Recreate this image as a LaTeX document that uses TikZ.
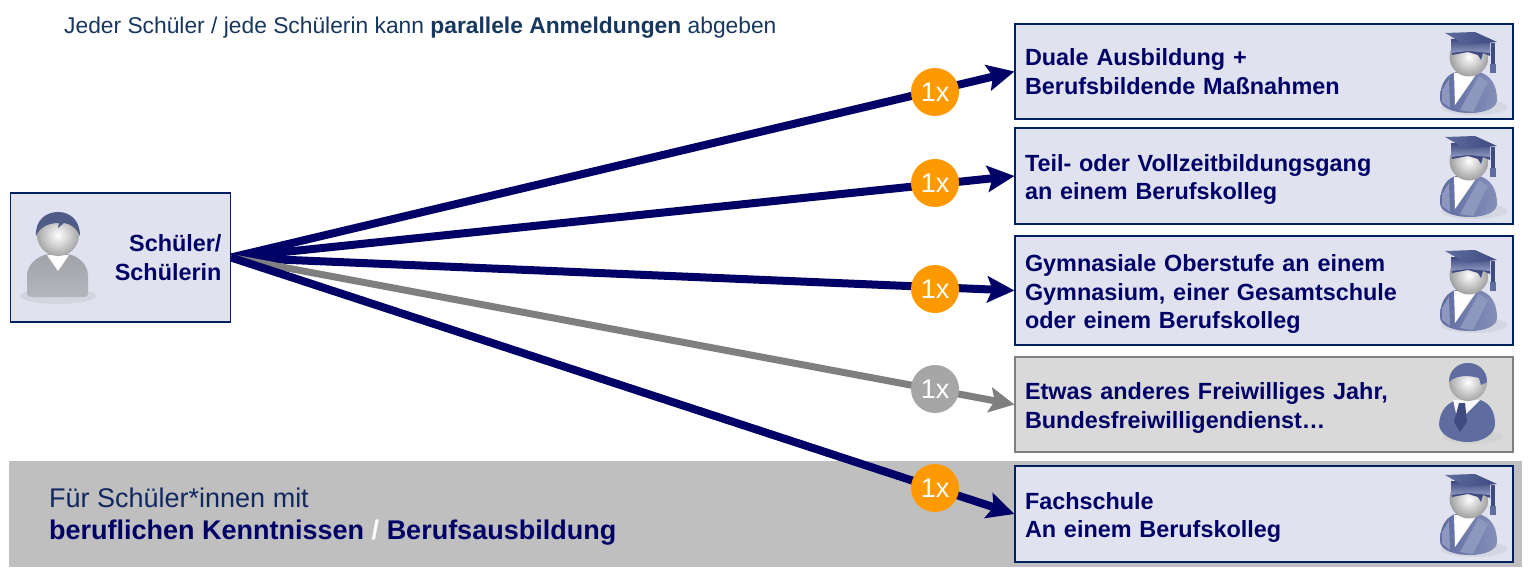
\documentclass[tikz,border=0pt]{standalone}
\usepackage{fontspec}
\setmainfont{Liberation Sans}
\usetikzlibrary{arrows.meta}
\definecolor{navy}{HTML}{000066}
\definecolor{boxblue}{HTML}{E0E3EF}
\definecolor{edgeblue}{HTML}{002060}
\definecolor{boxgray}{HTML}{D9D9D9}
\definecolor{edgegray}{HTML}{7F7F7F}
\definecolor{band}{HTML}{BFBFBF}
\definecolor{toptext}{HTML}{17375E}
\definecolor{badgeorange}{HTML}{FF9900}
\definecolor{badgegray}{HTML}{A6A6A6}
\definecolor{iconblue}{HTML}{5E6C9F}
\definecolor{iconlight}{HTML}{8E98BF}
\definecolor{icondark}{HTML}{3E4A80}
\newcommand{\lowtext}{\rule{0pt}{24pt}}
\tikzset{
  x=1pt,y=-1pt,
  card/.style={rectangle,draw=edgeblue,fill=boxblue,line width=1.1pt,anchor=center,
    align=left,inner xsep=0pt,inner ysep=0pt,text=navy,
    font=\fontsize{23.4}{28.7}\selectfont\bfseries},
  graycard/.style={card,draw=edgegray,fill=boxgray},
  link/.style={draw=navy,line width=8pt,-{Stealth[length=27pt,width=26pt,inset=5pt]}},
  graylink/.style={draw=edgegray,line width=7pt,-{Stealth[length=25pt,width=25pt,inset=5pt]}},
  badge/.style={circle,minimum size=48pt,inner sep=0pt,fill=badgeorange,text=white,
    font=\fontsize{27}{27}\selectfont},
  graybadge/.style={badge,fill=badgegray},
  graduate/.pic={
    \fill[boxblue!88!gray] (4,35) ellipse [x radius=33,y radius=8];
    \shade[left color=iconblue,right color=iconlight!80!iconblue] (-30,27) .. controls (-30,10) and (-22,2) .. (-14,0) -- (9,0)
      .. controls (20,3) and (27,12) .. (27,28) .. controls (27,36) and (15,41) .. (0,41)
      .. controls (-18,41) and (-30,35) .. (-30,27) -- cycle;
    \fill[iconlight] (9,4) -- (18,10) -- (3,40) -- (-10,38) -- cycle;
    \fill[iconlight] (-28,18) -- (-21,7) -- (-20,36) -- (-28,30) -- cycle;
    \fill[white] (-16,1) -- (7,1) -- (-15,33) -- cycle;
    \shade[inner color=white,outer color=gray!75] (-1,-15) circle [radius=19.5];
    \fill[icondark] (-19,-24) -- (20,-24) -- (20,-16) -- (13,-19) -- (11,-12) -- (8,-17)
      -- (-2,-20) -- (-18,-17) -- cycle;
    \shade[top color=icondark,bottom color=iconlight] (-19,-33) -- (20,-33) -- (20,-19) -- (-2,-21) -- (-19,-19) -- cycle;
    \shade[left color=iconblue,right color=icondark] (-25,-39) -- (5,-40) -- (27,-30) -- (-4,-27) -- cycle;
    \fill[icondark] (21,-29) -- (25,-29) -- (25,-8) -- (21,-8) -- cycle;
    \fill[iconblue] (20,-8) -- (26,-8) -- (26,1) -- (20,1) -- cycle;
  },
  student/.pic={
    \fill[boxblue!85!gray] (0,38) ellipse [x radius=38,y radius=8];
    \shade[top color=gray!65!boxblue,bottom color=gray!45!boxblue] (-31,36) -- (-31,18)
      .. controls (-31,6) and (-20,-2) .. (-10,-4) -- (10,-4)
      .. controls (20,-2) and (30,6) .. (30,18) -- (30,36)
      .. controls (30,38) and (28,39) .. (26,39) -- (-26,39)
      .. controls (-29,39) and (-31,38) .. (-31,36) -- cycle;
    \fill[white] (-11,-3) -- (11,-3) -- (0,13) -- cycle;
    \shade[inner color=white,outer color=gray!70] (0,-23) circle [radius=21];
    \fill[iconblue!85!black] (-22,-22) .. controls (-23,-38) and (-12,-46) .. (0,-46)
      .. controls (12,-46) and (22,-38) .. (22,-22) .. controls (18,-31) and (12,-34) .. (6,-35)
      -- (0,-30) -- (1,-35) .. controls (-8,-35) and (-18,-32) .. (-22,-22) -- cycle;
  },
  clerk/.pic={
    \fill[boxgray!92!gray] (4,37) ellipse [x radius=30,y radius=7];
    \fill[iconblue] (-29,24) .. controls (-28,10) and (-20,2) .. (-10,0) -- (12,0)
      .. controls (22,3) and (27,12) .. (27,24) .. controls (27,34) and (15,42) .. (0,42)
      .. controls (-16,42) and (-29,34) .. (-29,24) -- cycle;
    \fill[white!85!boxgray] (-15,0) -- (12,0) -- (-10,22) -- cycle;
    \fill[icondark] (-9,3) -- (-3,3) -- (-1,22) -- (-8,32) -- (-14,22) -- cycle;
    \shade[inner color=white,outer color=gray!70] (0,-18) circle [radius=19];
    \fill[iconblue] (-19,-18) .. controls (-19,-30) and (-10,-37) .. (0,-37)
      .. controls (10,-37) and (19,-30) .. (19,-18) -- (13,-15) -- (11,-22)
      .. controls (0,-25) and (-12,-25) .. (-19,-18) -- cycle;
  }
}
\begin{document}
\begin{tikzpicture}[line join=miter]
\useasboundingbox (0,0) rectangle (1532,578);
\fill[white] (0,0) rectangle (1532,578);

\node[rectangle,fill=band,minimum width=1513pt,minimum height=106pt,inner sep=0pt] (strip) at (765.5,514) {};

\node[anchor=west,inner sep=0pt,text=toptext,font=\fontsize{22.8}{26}\selectfont] (head) at (64,28)
  {Jeder Schüler / jede Schülerin kann \textbf{parallele Anmeldungen} abgeben};

\node[anchor=west,align=left,inner sep=0pt,text=navy,font=\fontsize{27}{32}\selectfont] (striptext) at (49,517)
  {\textcolor{toptext!70!navy}{Für Schüler*innen mit}\\\textbf{beruflichen Kenntnissen \textcolor{white}{/} Berufsausbildung}};

\node[card,align=right,minimum width=220pt,minimum height=129pt,text width=202pt] (src) at (120.5,257.5)
  {Schüler/\\Schülerin};
\node[card,minimum width=498pt,minimum height=95pt,text width=478pt] (t1) at (1264,71.5)
  {Duale Ausbildung +\\Berufsbildende Maßnahmen};
\node[card,minimum width=498pt,minimum height=96pt,text width=478pt] (t2) at (1264,176)
  {\lowtext Teil- oder Vollzeitbildungsgang\\an einem Berufskolleg};
\node[card,minimum width=498pt,minimum height=109pt,text width=478pt] (t3) at (1264,290.5)
  {\lowtext Gymnasiale Oberstufe an einem\\Gymnasium, einer Gesamtschule\\oder einem Berufskolleg};
\node[graycard,minimum width=498pt,minimum height=95pt,text width=478pt] (t4) at (1264,404.5)
  {\lowtext Etwas anderes Freiwilliges Jahr,\\Bundesfreiwilligendienst…};
\node[card,minimum width=498pt,minimum height=96pt,text width=478pt] (t5) at (1264,514)
  {\lowtext Fachschule\\An einem Berufskolleg};

\pic at (58,258) {student};
\pic at (1470,72) {graduate};
\pic at (1470,176) {graduate};
\pic at (1470,290) {graduate};
\pic at (1468,400) {clerk};
\pic at (1470,514) {graduate};

\draw[link] (src.east) -- (t1.west);
\draw[link] (src.east) -- (t2.west);
\draw[link] (src.east) -- (t3.west);
\draw[graylink] (src.east) -- (t4.west);
\draw[link] (src.east) -- (t5.west);

\node[badge] (b1) at (935,92) {1x};
\node[badge] (b2) at (935,183) {1x};
\node[badge] (b3) at (935,289) {1x};
\node[graybadge] (b4) at (935,389) {1x};
\node[badge] (b5) at (935,488) {1x};
\end{tikzpicture}
\end{document}
